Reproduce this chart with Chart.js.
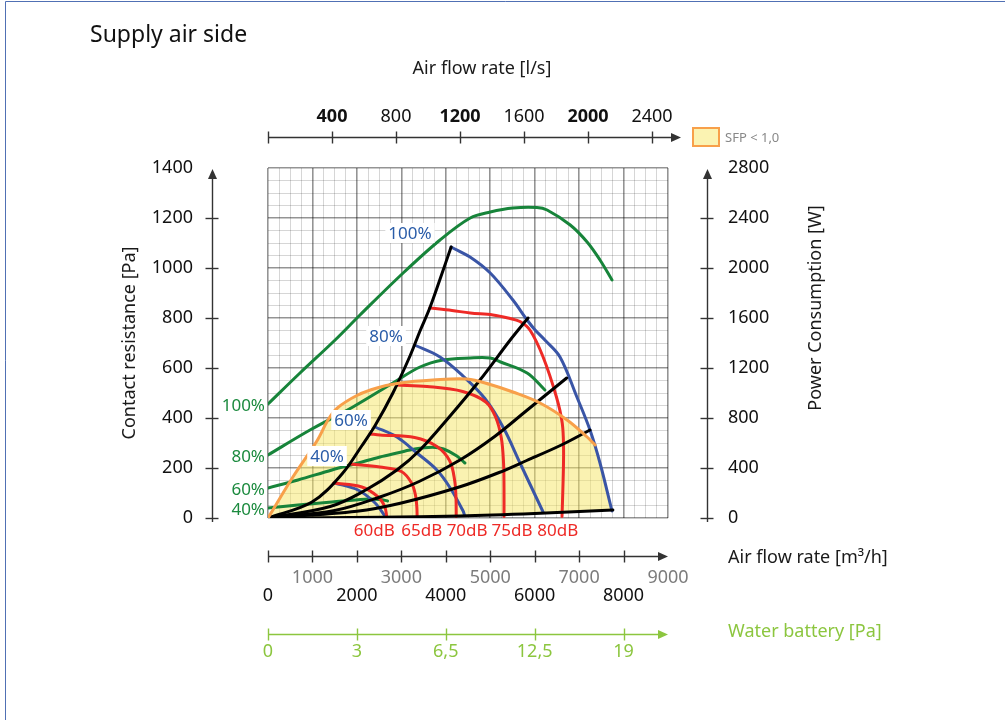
<!DOCTYPE html>
<html>
<head>
<meta charset="utf-8">
<script src="https://cdn.jsdelivr.net/npm/chart.js@4.4.1/dist/chart.umd.min.js"></script>
<style>
html,body{margin:0;padding:0;background:#fff;}
#wrap{width:1005px;height:720px;position:relative;}
</style>
</head>
<body>
<div id="wrap"><canvas id="c" width="1005" height="720"></canvas></div>
<script>
// ---------- DATA (air flow in m³/h, pressure in Pa, power in W) ----------
const flowTicksM3h = [0,1000,2000,3000,4000,5000,6000,7000,8000,9000];
const flowTicksLs = [0,400,800,1200,1600,2000,2400];
const pressureTicks = [0,200,400,600,800,1000,1200,1400];
const powerTicks = [0,400,800,1200,1600,2000,2400,2800];
const waterTickFlows = [0,2000,4000,6000,8000];
const waterTickLabels = ['0','3','6,5','12,5','19'];

// Fan curves (blue), pressure vs flow
const fanLabels = ['100%','80%','60%','40%'];
const fan100 = [[4120,1084],[4545,1044],[5000,980],[5510,872],[5830,792],[6010,752],[6230,712],[6570,644],[6950,484],[7245,352],[7470,220],[7740,28]];
const fan80  = [[3320,690],[3870,644],[4400,566],[4880,478],[5300,360],[5670,220],[6190,24]];
const fan60  = [[2410,364],[2900,324],[3350,260],[3800,192],[4100,120],[4390,28],[4420,12]];
const fan40  = [[1500,140],[2025,112],[2410,60],[2630,8]];
const fanLabelAt = [[3195,1140],[2655,728],[1868,392],[1328,248]];

// Sound level curves (red)
const soundLabels = ['60dB','65dB','70dB','75dB','80dB'];
const db60 = [[1480,140],[2110,124],[2480,84],[2630,44],[2670,6]];
const db65 = [[1860,216],[2520,204],[3000,186],[3230,140],[3320,90],[3350,40],[3355,6]];
const db70 = [[2300,336],[2520,332],[3300,322],[3800,286],[4090,228],[4200,150],[4230,80],[4235,6]];
const db75 = [[2900,532],[3580,526],[4380,506],[4900,464],[5120,404],[5250,320],[5300,220],[5310,120],[5310,6]];
const db80 = [[3640,840],[4140,830],[4550,820],[5060,812],[5400,800],[5670,786],[5900,750],[6190,644],[6490,484],[6620,380],[6650,280],[6640,150],[6615,6]];
const soundLabelFlow = [2390,3460,4480,5490,6520];

// System curves (black)
const sysA = [[0,0],[990,64],[1665,176],[2115,290],[2410,370],[2810,500],[3200,650],[3420,748],[3640,840],[3870,955],[4120,1084]];
const sysB = [[0,0],[1400,46],[2200,112],[2900,192],[3420,272],[4020,392],[4770,552],[5450,712],[5850,800]];
const sysC = [[0,0],[1500,30],[2520,84],[3400,146],[4320,232],[5100,326],[5820,430],[6720,560]];
const sysD = [[0,0],[2000,27],[3000,60],[4320,125],[5200,182],[5820,230],[6600,292],[7245,352]];
const sysE = [[0,0],[2500,3],[4320,8],[6000,18],[7760,32]];

// Power consumption curves (green), W vs flow
const powerLabels = ['100%','80%','60%','40%'];
const power100 = [[0,912],[720,1160],[1510,1424],[2070,1624],[3040,1960],[3870,2224],[4550,2400],[5000,2448],[5510,2480],[6050,2484],[6280,2464],[6800,2344],[7180,2208],[7470,2064],[7740,1904]];
const power80  = [[0,504],[945,704],[1910,888],[2810,1080],[3420,1208],[3940,1264],[4550,1280],[5000,1280],[5220,1250],[5830,1160],[6230,1024]];
const power60  = [[0,240],[675,304],[1440,384],[2030,440],[2520,488],[2930,522],[3300,552],[3700,566],[3950,552],[4250,496],[4430,440]];
const power40  = [[0,80],[675,104],[1440,128],[2180,150],[2520,148],[2690,136]];

// SFP < 1,0 boundary (orange)
const sfpBoundary = [[0,0],[560,164],[1100,308],[1350,392],[1560,440],[2000,490],[2450,520],[2970,540],[3710,552],[4480,556],[5000,534],[5510,504],[6120,460],[6730,392],[7180,324],[7360,292]];
const sfpLabel = 'SFP < 1,0';

// ---------- STYLE ----------
const F = "'Noto Sans', 'DejaVu Sans', sans-serif";
const C_GREEN = '#17843a', C_GREEN_T = '#1b8a3e', C_BLUE = '#3a55a6', C_BLUE_T = '#2a5ca8';
const C_RED = '#ee2a26', C_ORANGE = '#f8a04a', C_LGREEN = '#8cc63f', C_AX = '#333';
const MAJOR = 'rgba(0,0,0,0.42)', MINOR = 'rgba(0,0,0,0.16)';

const pt = a => a.map(([x, y]) => ({x, y}));
function curve(data, color, order, axis) {
  return {data: pt(data), borderColor: color, backgroundColor: color, borderWidth: 3, pointRadius: 0,
          tension: 0.35, fill: false, order: order, yAxisID: axis || 'y',
          borderCapStyle: 'round', borderJoinStyle: 'round'};
}
const lastSfp = sfpBoundary[sfpBoundary.length - 1];
const sfpArea = sfpBoundary
  .concat(fan100.filter(p => p[1] < lastSfp[1]))
  .concat(sysE.slice().reverse());

const gridX = Array.from({length: 37}, (_, i) => i * 250);
const gridY = Array.from({length: 29}, (_, i) => i * 50);

function hAxis(ctx, yp, x0, xTip, ticks, color) {
  ctx.save();
  ctx.strokeStyle = color; ctx.fillStyle = color; ctx.lineWidth = 1.4;
  ctx.beginPath(); ctx.moveTo(x0, yp); ctx.lineTo(xTip - 5, yp); ctx.stroke();
  ticks.forEach(t => { ctx.beginPath(); ctx.moveTo(t, yp - 6); ctx.lineTo(t, yp + 6); ctx.stroke(); });
  ctx.beginPath(); ctx.moveTo(xTip, yp); ctx.lineTo(xTip - 10, yp - 4.5); ctx.lineTo(xTip - 10, yp + 4.5); ctx.closePath(); ctx.fill();
  ctx.restore();
}
function vAxis(ctx, xp, y0, yTip, ticks, color) {
  ctx.save();
  ctx.strokeStyle = color; ctx.fillStyle = color; ctx.lineWidth = 1.4;
  ctx.beginPath(); ctx.moveTo(xp, y0); ctx.lineTo(xp, yTip + 5); ctx.stroke();
  ticks.forEach(t => { ctx.beginPath(); ctx.moveTo(xp - 7, t); ctx.lineTo(xp + 6, t); ctx.stroke(); });
  ctx.beginPath(); ctx.moveTo(xp, yTip); ctx.lineTo(xp - 4.5, yTip + 10); ctx.lineTo(xp + 4.5, yTip + 10); ctx.closePath(); ctx.fill();
  ctx.restore();
}

const decor = {
  id: 'decor',
  afterDatasetsDraw(chart) {
    const {ctx} = chart; const {x, y} = chart.scales;
    ctx.save();
    ctx.font = '17px ' + F; ctx.textAlign = 'center'; ctx.textBaseline = 'middle';
    fanLabels.forEach((t, i) => {
      const px = x.getPixelForValue(fanLabelAt[i][0]), py = y.getPixelForValue(fanLabelAt[i][1]);
      const w = ctx.measureText(t).width;
      ctx.fillStyle = '#fff'; ctx.fillRect(px - w / 2 - 3, py - 10, w + 6, 20);
      ctx.fillStyle = C_BLUE_T; ctx.fillText(t, px, py + 1);
    });
    ctx.restore();
  },
  afterDraw(chart) {
    const {ctx, chartArea: ca} = chart; const {x, y, y2, xT} = chart.scales;
    ctx.save();
    // outer frame
    ctx.strokeStyle = '#5070b4'; ctx.lineWidth = 1;
    ctx.beginPath(); ctx.moveTo(5.5, 720); ctx.lineTo(5.5, 1.5); ctx.lineTo(1005, 1.5); ctx.stroke();
    // axes
    vAxis(ctx, 212.5, y.getPixelForValue(0) + 4, y.getPixelForValue(1400) + 1,
          pressureTicks.slice(0, -1).map(v => Math.round(y.getPixelForValue(v)) + 0.5), C_AX);
    vAxis(ctx, 707.5, y2.getPixelForValue(0) + 4, y2.getPixelForValue(2800) + 1,
          powerTicks.slice(0, -1).map(v => Math.round(y2.getPixelForValue(v)) + 0.5), C_AX);
    hAxis(ctx, 556.5, x.getPixelForValue(0), x.getPixelForValue(9000),
          flowTicksM3h.slice(0, -1).map(v => Math.round(x.getPixelForValue(v)) + 0.5), C_AX);
    hAxis(ctx, 137.5, xT.getPixelForValue(0), xT.right + 13,
          flowTicksLs.map(v => Math.round(xT.getPixelForValue(v)) + 0.5), C_AX);
    hAxis(ctx, 634.5, x.getPixelForValue(0), x.getPixelForValue(9000),
          waterTickFlows.map(v => Math.round(x.getPixelForValue(v)) + 0.5), C_LGREEN);
    // green power labels
    ctx.font = '17px ' + F; ctx.textBaseline = 'middle';
    ctx.textAlign = 'right'; ctx.fillStyle = C_GREEN_T;
    [power100, power80, power60, power40].forEach((s, i) => {
      ctx.fillText(powerLabels[i], ca.left - 3, y2.getPixelForValue(s[0][1]) + 2);
    });
    // red sound labels
    ctx.textAlign = 'center'; ctx.fillStyle = C_RED;
    soundLabels.forEach((t, i) => ctx.fillText(t, x.getPixelForValue(soundLabelFlow[i]), ca.bottom + 13));
    // axis titles
    ctx.font = '18px ' + F; ctx.fillStyle = '#1a1a1a';
    ctx.textAlign = 'center'; ctx.fillText('Air flow rate [l/s]', 482, 69);
    ctx.textAlign = 'left'; ctx.fillText('Air flow rate [m\u00B3/h]', 728, 558);
    ctx.fillStyle = C_LGREEN; ctx.fillText('Water battery [Pa]', 728, 632);
    ctx.save(); ctx.translate(816, 308); ctx.rotate(-Math.PI / 2);
    ctx.fillStyle = '#1a1a1a'; ctx.textAlign = 'center'; ctx.fillText('Power Consumption [W]', 0, 0);
    ctx.restore();
    // legend
    ctx.fillStyle = '#fbf3b2'; ctx.strokeStyle = C_ORANGE; ctx.lineWidth = 2;
    ctx.fillRect(693, 128, 26, 18); ctx.strokeRect(693, 128, 26, 18);
    ctx.font = '13px ' + F; ctx.fillStyle = '#888'; ctx.textAlign = 'left';
    ctx.fillText(sfpLabel, 725, 138);
    ctx.restore();
  }
};

Chart.defaults.font.family = F;
Chart.defaults.color = '#111';

const tickFont = {family: F, size: 18, lineHeight: 1};

new Chart(document.getElementById('c'), {
  type: 'line',
  data: {
    datasets: [
      {data: pt(sfpArea), borderWidth: 0, pointRadius: 0, tension: 0, backgroundColor: 'rgba(245,229,100,0.5)', fill: 'shape', order: 20},
      curve(power100, C_GREEN, 9, 'y2'), curve(power80, C_GREEN, 9, 'y2'),
      curve(power60, C_GREEN, 9, 'y2'), curve(power40, C_GREEN, 9, 'y2'),
      curve(fan100, C_BLUE, 7), curve(fan80, C_BLUE, 7), curve(fan60, C_BLUE, 7), curve(fan40, C_BLUE, 7),
      curve(db60, C_RED, 6), curve(db65, C_RED, 6), curve(db70, C_RED, 6), curve(db75, C_RED, 6), curve(db80, C_RED, 6),
      curve(sysA, '#000', 4), curve(sysB, '#000', 4), curve(sysC, '#000', 4), curve(sysD, '#000', 4), curve(sysE, '#000', 4),
      curve(sfpBoundary, C_ORANGE, 1)
    ]
  },
  options: {
    responsive: false, animation: false, devicePixelRatio: 1, events: [],
    layout: {padding: {left: 90, right: 137, top: 0, bottom: 42}},
    plugins: {
      legend: {display: false}, tooltip: {enabled: false},
      title: {display: true, text: 'Supply air side', align: 'start', color: '#111',
              font: {family: F, size: 23, weight: 'normal', lineHeight: 1}, padding: {top: 24, bottom: 0}}
    },
    scales: {
      x: {
        type: 'linear', position: 'bottom', min: 0, max: 9000, weight: 0,
        afterBuildTicks: s => { s.ticks = gridX.map(v => ({value: v})); },
        afterFit: s => { s.height = 100; },
        border: {display: false},
        grid: {color: c => (c.tick && c.tick.value % 1000 === 0) ? MAJOR : MINOR,
               lineWidth: c => (c.tick && c.tick.value % 1000 === 0) ? 1.6 : 1, drawTicks: false},
        ticks: {autoSkip: false, maxRotation: 0, minRotation: 0, padding: 51, font: tickFont,
                color: c => ((c.tick.value / 1000) % 2 === 1) ? '#7c7c7c' : '#111',
                callback: v => {
                  if (!flowTicksM3h.includes(v)) return '';
                  const s = String(v);
                  return ((v / 1000) % 2 === 1) ? [s, ''] : ['', s];
                }}
      },
      xW: {
        type: 'linear', position: 'bottom', min: 0, max: 9000, weight: 1,
        afterBuildTicks: s => { s.ticks = waterTickFlows.map(v => ({value: v})); },
        afterFit: s => { s.height = 60; },
        border: {display: false}, grid: {display: false, drawTicks: false},
        ticks: {autoSkip: false, maxRotation: 0, padding: 25, font: tickFont, color: C_LGREEN,
                callback: v => waterTickLabels[waterTickFlows.indexOf(v)]}
      },
      xT: {
        type: 'linear', position: 'top', min: 0, max: 2500, weight: 0,
        afterBuildTicks: s => { s.ticks = flowTicksLs.map(v => ({value: v})); },
        afterFit: s => { s.height = 121; },
        border: {display: false}, grid: {display: false, drawTicks: false},
        ticks: {autoSkip: false, maxRotation: 0, padding: 42, color: '#111',
                font: c => ({family: F, size: 18, lineHeight: 1,
                             weight: (c.tick && [400, 1200, 2000].includes(c.tick.value)) ? 'bold' : 'normal'}),
                callback: v => v === 0 ? '' : String(v)}
      },
      y: {
        type: 'linear', position: 'left', min: 0, max: 1400,
        afterBuildTicks: s => { s.ticks = gridY.map(v => ({value: v})); },
        afterFit: s => { s.width = 178; },
        border: {display: false},
        grid: {color: c => (c.tick && c.tick.value % 200 === 0) ? MAJOR : MINOR,
               lineWidth: c => (c.tick && c.tick.value % 200 === 0) ? 1.6 : 1, drawTicks: false},
        ticks: {autoSkip: false, padding: 75, font: tickFont, color: '#111',
                callback: v => pressureTicks.includes(v) ? String(v) : ''},
        title: {display: true, text: 'Contact resistance [Pa]', color: '#1a1a1a',
                font: {family: F, size: 18, lineHeight: 1}, padding: {top: 31, bottom: 0}}
      },
      y2: {
        type: 'linear', position: 'right', min: 0, max: 2800,
        afterBuildTicks: s => { s.ticks = powerTicks.map(v => ({value: v})); },
        afterFit: s => { s.width = 200; },
        border: {display: false}, grid: {display: false, drawTicks: false},
        ticks: {autoSkip: false, padding: 60, font: tickFont, color: '#111',
                callback: v => String(v)}
      }
    }
  },
  plugins: [decor]
});
</script>
</body>
</html>
